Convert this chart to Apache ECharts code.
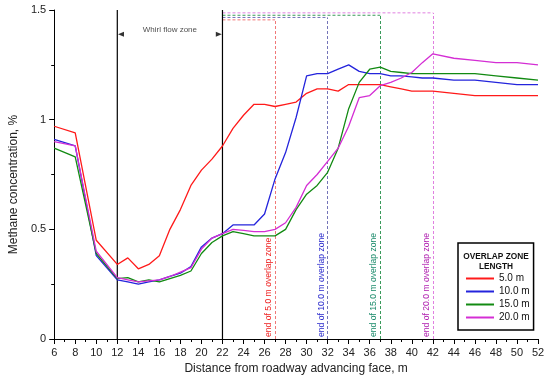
<!DOCTYPE html>
<html>
<head>
<meta charset="utf-8">
<script src="https://cdn.jsdelivr.net/npm/echarts@6/dist/echarts.min.js"></script>
<style>html,body{margin:0;padding:0;background:#fff}#c{width:550px;height:380px}</style>
</head>
<body>
<div id="c"></div>
<script>
const xs = [6,8,10,12,13,14,15,16,17,18,19,20,21,22,23,24,25,26,27,28,29,30,31,32,33,34,35,36,37,38,39,40,41,42,44,46,48,50,52];
const red5 = [0.97,0.94,0.45,0.34,0.37,0.32,0.34,0.38,0.50,0.59,0.70,0.77,0.82,0.88,0.96,1.02,1.07,1.07,1.06,1.07,1.08,1.12,1.14,1.14,1.13,1.16,1.16,1.16,1.16,1.15,1.14,1.13,1.13,1.13,1.12,1.11,1.11,1.11,1.11];
const blue10 = [0.91,0.88,0.38,0.27,0.26,0.25,0.26,0.27,0.285,0.30,0.33,0.42,0.46,0.48,0.52,0.52,0.52,0.57,0.73,0.85,1.01,1.20,1.21,1.21,1.23,1.25,1.22,1.21,1.21,1.20,1.20,1.195,1.19,1.19,1.18,1.18,1.17,1.16,1.16];
const green15 = [0.87,0.83,0.39,0.275,0.28,0.26,0.27,0.26,0.275,0.29,0.31,0.39,0.44,0.47,0.49,0.48,0.47,0.47,0.47,0.50,0.59,0.66,0.70,0.76,0.87,1.05,1.17,1.23,1.24,1.22,1.215,1.21,1.21,1.21,1.21,1.21,1.20,1.19,1.18];
const mag20 = [0.90,0.88,0.40,0.28,0.27,0.26,0.265,0.27,0.285,0.305,0.325,0.41,0.46,0.48,0.50,0.495,0.49,0.49,0.50,0.53,0.60,0.70,0.75,0.81,0.87,0.97,1.10,1.11,1.155,1.17,1.19,1.215,1.26,1.30,1.28,1.27,1.26,1.26,1.25];
const seriesNames = ['5.0 m','10.0 m','15.0 m','20.0 m'];
const seriesValues = [red5, blue10, green15, mag20];
const zoneBounds = [12, 22];
const overlapEnds = [27, 32, 37, 42];
const overlapTops = [1.455, 1.466, 1.476, 1.487];
const overlapLabels = ['end of 5.0 m overlap zone','end of 10.0 m overlap zone','end of 15.0 m overlap zone','end of 20.0 m overlap zone'];

const lineColors = ['#ff1a1a','#2424dc','#128a12','#d42ed4'];
const dashColors = ['#f07878','#7474b8','#3a9a5a','#e080e0'];
const textColors = ['#ee2222','#2a2acc','#1a8a6a','#b020b0'];
const FONT = 'Liberation Sans, Arial, sans-serif';

const series = [];
seriesNames.forEach((n, i) => {
  series.push({
    name: n, type: 'line', symbol: 'none', showSymbol: false, z: 5,
    data: xs.map((x, k) => [x, seriesValues[i][k]]),
    lineStyle: { color: lineColors[i], width: 1.3 },
    itemStyle: { color: lineColors[i] }
  });
});
zoneBounds.forEach(b => {
  series.push({
    type: 'line', symbol: 'none', silent: true, z: 3,
    data: [[b, 0], [b, 1.5]],
    lineStyle: { color: '#000', width: 1.2 }
  });
});
overlapEnds.forEach((e, i) => {
  const t = overlapTops[i];
  const ls = { color: dashColors[i], width: 1, type: [3, 2] };
  series.push({
    type: 'line', symbol: 'none', silent: true, z: 2,
    data: [[zoneBounds[1], t], [e, t]],
    lineStyle: ls,
    markLine: {
      silent: true, symbol: 'none',
      lineStyle: ls,
      label: {
        show: true, position: 'insideStartTop', distance: 2,
        formatter: overlapLabels[i], color: textColors[i],
        fontSize: 8.6, fontFamily: FONT
      },
      data: [[{ coord: [e, 0] }, { coord: [e, t] }]]
    }
  });
});
series.push({
  type: 'scatter', silent: true, symbol: 'triangle', symbolSize: [5, 6], symbolRotate: 90,
  data: [[12.35, 1.39]], itemStyle: { color: '#000' }
});
series.push({
  type: 'scatter', silent: true, symbol: 'triangle', symbolSize: [5, 6], symbolRotate: -90,
  data: [[21.65, 1.39]], itemStyle: { color: '#000' }
});
series.push({
  type: 'scatter', silent: true, symbolSize: 0,
  data: [[17, 1.41]],
  label: { show: true, position: 'inside', formatter: 'Whirl flow zone', fontSize: 8, color: '#222', fontFamily: FONT }
});

const chart = echarts.init(document.getElementById('c'), null, { renderer: 'canvas' });
chart.setOption({
  animation: false,
  backgroundColor: '#fff',
  textStyle: { fontFamily: FONT },
  grid: { left: 45, right: 12, top: 10, bottom: 41 },
  legend: {
    data: seriesNames.map(n => ({ name: n, icon: 'rect' })),
    orient: 'vertical',
    left: 458, top: 243,
    padding: [30, 4, 7, 8],
    itemWidth: 28, itemHeight: 2, itemGap: 2, itemTextGap: 5,
    borderColor: '#000', borderWidth: 1.5, backgroundColor: '#fff',
    textStyle: { fontSize: 10, color: '#111', lineHeight: 11, fontFamily: FONT }
  },
  graphic: [{
    type: 'text', z: 100,
    style: { x: 496, y: 252, text: 'OVERLAP ZONE\nLENGTH', textAlign: 'center', font: 'bold 8.3px ' + FONT, fill: '#111', lineHeight: 9.5 }
  }],
  xAxis: {
    type: 'value', min: 6, max: 52, interval: 2,
    name: 'Distance from roadway advancing face, m', nameLocation: 'middle', nameGap: 23,
    nameTextStyle: { fontSize: 12, color: '#222', fontFamily: FONT },
    axisLine: { lineStyle: { color: '#000', width: 1 } },
    axisTick: { length: 5, lineStyle: { color: '#000' } },
    minorTick: { show: true, splitNumber: 2, length: 3, lineStyle: { color: '#000' } },
    splitLine: { show: false },
    axisLabel: { fontSize: 11, color: '#222', margin: 8 }
  },
  yAxis: {
    type: 'value', min: 0, max: 1.5, interval: 0.5,
    name: 'Methane concentration, %', nameLocation: 'middle', nameGap: 24,
    nameTextStyle: { fontSize: 12, color: '#222', fontFamily: FONT, padding: [0, 0, 0, -20] },
    axisLine: { show: true, lineStyle: { color: '#000', width: 1 } },
    axisTick: { show: true, length: 5, lineStyle: { color: '#000' } },
    minorTick: { show: true, splitNumber: 2, length: 3, lineStyle: { color: '#000' } },
    splitLine: { show: false },
    axisLabel: { fontSize: 11, color: '#222', margin: 8 }
  },
  series: series
});
</script>
</body>
</html>
